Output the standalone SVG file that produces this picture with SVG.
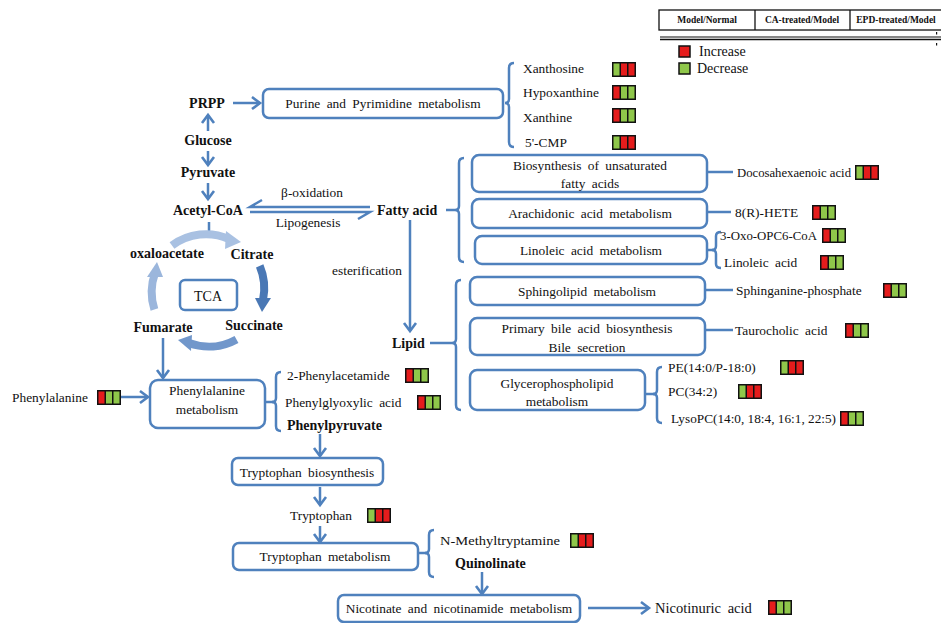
<svg xmlns="http://www.w3.org/2000/svg" xmlns:xlink="http://www.w3.org/1999/xlink" width="941" height="623" viewBox="0 0 941 623">
<style>
text{font-family:"Liberation Serif","Times New Roman",serif;font-size:13.4px;fill:#111}
.b{font-weight:bold;font-size:14px}
.c{text-anchor:middle}
.ws{word-spacing:3px}
.hd{font-size:9.5px;font-weight:bold;text-anchor:middle}
.lg{font-size:14px}
.box{fill:#fff;stroke:#4f81bd;stroke-width:2.5}
.ln{fill:none;stroke:#4f81bd;stroke-width:2.5}
.ar{fill:none;stroke:#4f81bd;stroke-width:2.5;marker-end:url(#ah)}
</style>
<defs>
<marker id="ah" markerUnits="userSpaceOnUse" markerWidth="16" markerHeight="16" viewBox="0 0 16 16" refX="13" refY="8" orient="auto">
<path d="M5,2 L13,8 L5,14" fill="none" stroke="#4f81bd" stroke-width="2.6"/>
</marker>
<g id="rgg"><rect width="24" height="15" fill="#111"/><rect x="1.5" y="1.5" width="6" height="12" fill="#e51c1c"/><rect x="9" y="1.5" width="6" height="12" fill="#8fc74a"/><rect x="16.5" y="1.5" width="6" height="12" fill="#8fc74a"/></g>
<g id="grr"><rect width="24" height="15" fill="#111"/><rect x="1.5" y="1.5" width="6" height="12" fill="#8fc74a"/><rect x="9" y="1.5" width="6" height="12" fill="#e51c1c"/><rect x="16.5" y="1.5" width="6" height="12" fill="#e51c1c"/></g>
</defs>

<g id="legend">
<rect x="659" y="10" width="290" height="20" fill="#fff" stroke="#111" stroke-width="1.3"/>
<line x1="755" y1="10" x2="755" y2="30" stroke="#111" stroke-width="1.3"/>
<line x1="850" y1="10" x2="850" y2="30" stroke="#111" stroke-width="1.3"/>
<text class="hd" x="707" y="23">Model/Normal</text>
<text class="hd" x="802" y="23">CA-treated/Model</text>
<text class="hd" x="896" y="23">EPD-treated/Model</text>
<line x1="660" y1="37" x2="941" y2="37" stroke="#111" stroke-width="1.2"/>
<line x1="660" y1="39.5" x2="941" y2="39.5" stroke="#111" stroke-width="1.6"/>
<rect x="936" y="32" width="1.2" height="2.5" fill="#111"/>
<rect x="936" y="43" width="1.2" height="2.5" fill="#111"/>
<rect x="679" y="46" width="11" height="11" fill="#e51c1c" stroke="#111" stroke-width="1.5"/>
<text class="lg" x="699" y="56">Increase</text>
<rect x="679" y="63" width="11" height="11" fill="#8fc74a" stroke="#111" stroke-width="1.5"/>
<text class="lg" x="697" y="73">Decrease</text>
</g>

<g id="connectors">
<line class="ar" x1="233" y1="103" x2="260" y2="103"/>
<line class="ar" x1="208" y1="131" x2="208" y2="115"/>
<line class="ar" x1="208" y1="151" x2="208" y2="165"/>
<line class="ar" x1="208" y1="183" x2="208" y2="199"/>
<path class="ln" d="M370,207 L250,207 L262,200"/>
<path class="ln" d="M250,212 L370,212 L358,219"/>
<line class="ln" x1="209" y1="222" x2="209" y2="238"/>
<line class="ln" x1="446" y1="210" x2="455" y2="210"/>
<line class="ar" x1="410" y1="220" x2="410" y2="331"/>
<line class="ln" x1="430" y1="343" x2="452" y2="343"/>
<line class="ln" x1="707" y1="172" x2="733" y2="172"/>
<line class="ln" x1="707" y1="212" x2="731" y2="212"/>
<line class="ln" x1="707" y1="250" x2="713" y2="250"/>
<line class="ln" x1="705" y1="290" x2="733" y2="290"/>
<line class="ln" x1="705" y1="330" x2="733" y2="330"/>
<line class="ln" x1="645" y1="394" x2="654" y2="394"/>
<line class="ar" x1="163" y1="338" x2="163" y2="378"/>
<line class="ar" x1="121" y1="397" x2="148" y2="397"/>
<line class="ln" x1="265" y1="402" x2="273" y2="402"/>
<line class="ar" x1="320" y1="434" x2="320" y2="456"/>
<line class="ar" x1="320" y1="487" x2="320" y2="505"/>
<line class="ar" x1="320" y1="526" x2="320" y2="542"/>
<line class="ln" x1="418" y1="553" x2="426" y2="553"/>
<line class="ar" x1="482" y1="572" x2="482" y2="594"/>
<line class="ar" x1="588" y1="608" x2="649" y2="608"/>
<path class="ln" d="M514,63 Q509,63 509,68 L509,99 Q509,103 505,103 Q509,103 509,107 L509,142 Q509,147 514,147"/>
<path class="ln" d="M464,158 Q459,158 459,163 L459,206 Q459,210 455,210 Q459,210 459,214 L459,257 Q459,262 464,262"/>
<path class="ln" d="M721,232 Q716,232 716,236 L716,246 Q716,250 712,250 Q716,250 716,254 L716,264 Q716,268 721,268"/>
<path class="ln" d="M461,280 Q456,280 456,285 L456,339 Q456,343 452,343 Q456,343 456,347 L456,405 Q456,410 461,410"/>
<path class="ln" d="M662,367 Q657,367 657,372 L657,390 Q657,394 653,394 Q657,394 657,398 L657,418 Q657,423 662,423"/>
<path class="ln" d="M281,372 Q276,372 276,377 L276,398 Q276,402 272,402 Q276,402 276,406 L276,426 Q276,431 281,431"/>
<path class="ln" d="M434,530 Q429,530 429,535 L429,549 Q429,553 425,553 Q429,553 429,557 L429,572 Q429,577 434,577"/>
</g>

<g id="tca-cycle">
<path d="M172,245.5 A57,57 0 0 1 229,239" fill="none" stroke="#a9c1e2" stroke-width="8"/>
<polygon points="226,231 241,242 225,249" fill="#a9c1e2"/>
<path d="M259.7,265.9 A57,57 0 0 1 263,300" fill="none" stroke="#4a78b5" stroke-width="8"/>
<polygon points="255,298 271,298 262,312" fill="#4a78b5"/>
<path d="M236.5,339.4 A57,57 0 0 1 189,343" fill="none" stroke="#7197cb" stroke-width="8"/>
<polygon points="192,335 191,351 178,340" fill="#7197cb"/>
<path d="M154.4,309.5 A57,57 0 0 1 155,273" fill="none" stroke="#9bb6dc" stroke-width="8"/>
<polygon points="147,277 163,277 157,262" fill="#9bb6dc"/>
</g>

<g id="n-prpp"><text class="b c" x="207" y="108">PRPP</text></g>
<g id="n-glucose"><text class="b c" x="208" y="145">Glucose</text></g>
<g id="n-pyruvate"><text class="b c" x="208" y="177">Pyruvate</text></g>
<g id="n-acetylcoa"><text class="b c" x="208" y="215">Acetyl-CoA</text></g>
<g id="n-boxidation"><text class="c" x="312" y="197">β-oxidation</text></g>
<g id="n-lipogenesis"><text class="c" x="308" y="227">Lipogenesis</text></g>
<g id="n-fattyacid"><text class="b" x="377" y="215">Fatty acid</text></g>
<g id="n-esterification"><text class="c" x="367" y="275">esterification</text></g>
<g id="n-lipid"><text class="b" x="392" y="348">Lipid</text></g>

<g id="n-oxaloacetate"><text class="b c" x="167" y="258">oxaloacetate</text></g>
<g id="n-citrate"><text class="b c" x="252" y="259">Citrate</text></g>
<g id="n-succinate"><text class="b c" x="254" y="330">Succinate</text></g>
<g id="n-fumarate"><text class="b c" x="163" y="332">Fumarate</text></g>
<g id="n-tca"><rect class="box" x="180" y="280" width="57" height="30" rx="5"/><text class="c" x="208" y="301" style="font-size:14px">TCA</text></g>

<g id="n-purine"><rect class="box" x="263" y="89" width="240" height="29" rx="6"/><text class="c ws" x="383" y="108">Purine and Pyrimidine metabolism</text></g>
<g id="n-xanthosine"><text x="523" y="73">Xanthosine</text><use xlink:href="#grr" x="612" y="62"/></g>
<g id="n-hypoxanthine"><text x="523" y="97">Hypoxanthine</text><use xlink:href="#rgg" x="612" y="85"/></g>
<g id="n-xanthine"><text x="523" y="122">Xanthine</text><use xlink:href="#rgg" x="612" y="108"/></g>
<g id="n-cmp"><text x="525" y="147">5'-CMP</text><use xlink:href="#grr" x="612" y="135"/></g>

<g id="n-biosyn"><rect class="box" x="472" y="155" width="235" height="37" rx="7"/><text class="c ws" x="590" y="170">Biosynthesis of unsaturated</text><text class="c ws" x="590" y="188">fatty acids</text></g>
<g id="n-arachidonic"><rect class="box" x="472" y="199" width="235" height="29" rx="7"/><text class="c ws" x="590" y="218">Arachidonic acid metabolism</text></g>
<g id="n-linoleicmet"><rect class="box" x="475" y="236" width="232" height="28" rx="7"/><text class="c ws" x="591" y="255">Linoleic acid metabolism</text></g>
<g id="n-dha"><text x="737" y="177" textLength="114" lengthAdjust="spacingAndGlyphs">Docosahexaenoic acid</text><use xlink:href="#grr" x="855" y="165"/></g>
<g id="n-hete"><text x="735" y="217">8(R)-HETE</text><use xlink:href="#rgg" x="812" y="205"/></g>
<g id="n-oxo"><text x="720" y="240" textLength="97" lengthAdjust="spacingAndGlyphs">3-Oxo-OPC6-CoA</text><use xlink:href="#rgg" x="822" y="228"/></g>
<g id="n-linoleic"><text class="ws" x="724" y="267">Linoleic acid</text><use xlink:href="#rgg" x="820" y="255"/></g>

<g id="n-sphingo"><rect class="box" x="470" y="277" width="235" height="28" rx="7"/><text class="c ws" x="587" y="296">Sphingolipid metabolism</text></g>
<g id="n-bile"><rect class="box" x="470" y="318" width="235" height="37" rx="7"/><text class="c ws" x="587" y="333">Primary bile acid biosynthesis</text><text class="c ws" x="587" y="352">Bile secretion</text></g>
<g id="n-glycero"><rect class="box" x="470" y="370" width="175" height="40" rx="7"/><text class="c" x="557" y="388">Glycerophospholipid</text><text class="c" x="557" y="406">metabolism</text></g>
<g id="n-sphinganine"><text x="736" y="295">Sphinganine-phosphate</text><use xlink:href="#rgg" x="883" y="283"/></g>
<g id="n-taurocholic"><text class="ws" x="735" y="335">Taurocholic acid</text><use xlink:href="#rgg" x="845" y="323"/></g>
<g id="n-pe"><text x="668" y="372">PE(14:0/P-18:0)</text><use xlink:href="#grr" x="780" y="360"/></g>
<g id="n-pc"><text x="668" y="396">PC(34:2)</text><use xlink:href="#grr" x="738" y="384"/></g>
<g id="n-lysopc"><text x="671" y="423" textLength="165" lengthAdjust="spacingAndGlyphs">LysoPC(14:0, 18:4, 16:1, 22:5)</text><use xlink:href="#rgg" x="840" y="411"/></g>

<g id="n-phenylalanine"><text x="12" y="402">Phenylalanine</text><use xlink:href="#rgg" x="97" y="390"/></g>
<g id="n-phemet"><rect class="box" x="150" y="380" width="115" height="48" rx="8"/><text class="c" x="207" y="395">Phenylalanine</text><text class="c" x="207" y="414">metabolism</text></g>
<g id="n-phenylacetamide"><text x="287" y="380">2-Phenylacetamide</text><use xlink:href="#rgg" x="405" y="368"/></g>
<g id="n-phenylglyoxylic"><text class="ws" x="285" y="407">Phenylglyoxylic acid</text><use xlink:href="#rgg" x="417" y="395"/></g>
<g id="n-phenylpyruvate"><text class="b" x="287" y="430">Phenylpyruvate</text></g>

<g id="n-trpbio"><rect class="box" x="232" y="458" width="151" height="27" rx="6"/><text class="c ws" x="307" y="477">Tryptophan biosynthesis</text></g>
<g id="n-tryptophan"><text x="290" y="520">Tryptophan</text><use xlink:href="#grr" x="367" y="508"/></g>
<g id="n-trpmet"><rect class="box" x="233" y="543" width="185" height="27" rx="6"/><text class="c ws" x="325" y="561">Tryptophan metabolism</text></g>
<g id="n-nmethyl"><text x="440" y="545" textLength="120" lengthAdjust="spacingAndGlyphs">N-Methyltryptamine</text><use xlink:href="#grr" x="570" y="533"/></g>
<g id="n-quinolinate"><text class="b" x="455" y="568">Quinolinate</text></g>
<g id="n-nicotinate"><rect class="box" x="338" y="595" width="242" height="27" rx="6"/><text class="c ws" x="459" y="613">Nicotinate and nicotinamide metabolism</text></g>
<g id="n-nicotinuric"><text class="ws" x="655" y="613" style="font-size:14.5px">Nicotinuric acid</text><use xlink:href="#rgg" x="768" y="600"/></g>
</svg>
